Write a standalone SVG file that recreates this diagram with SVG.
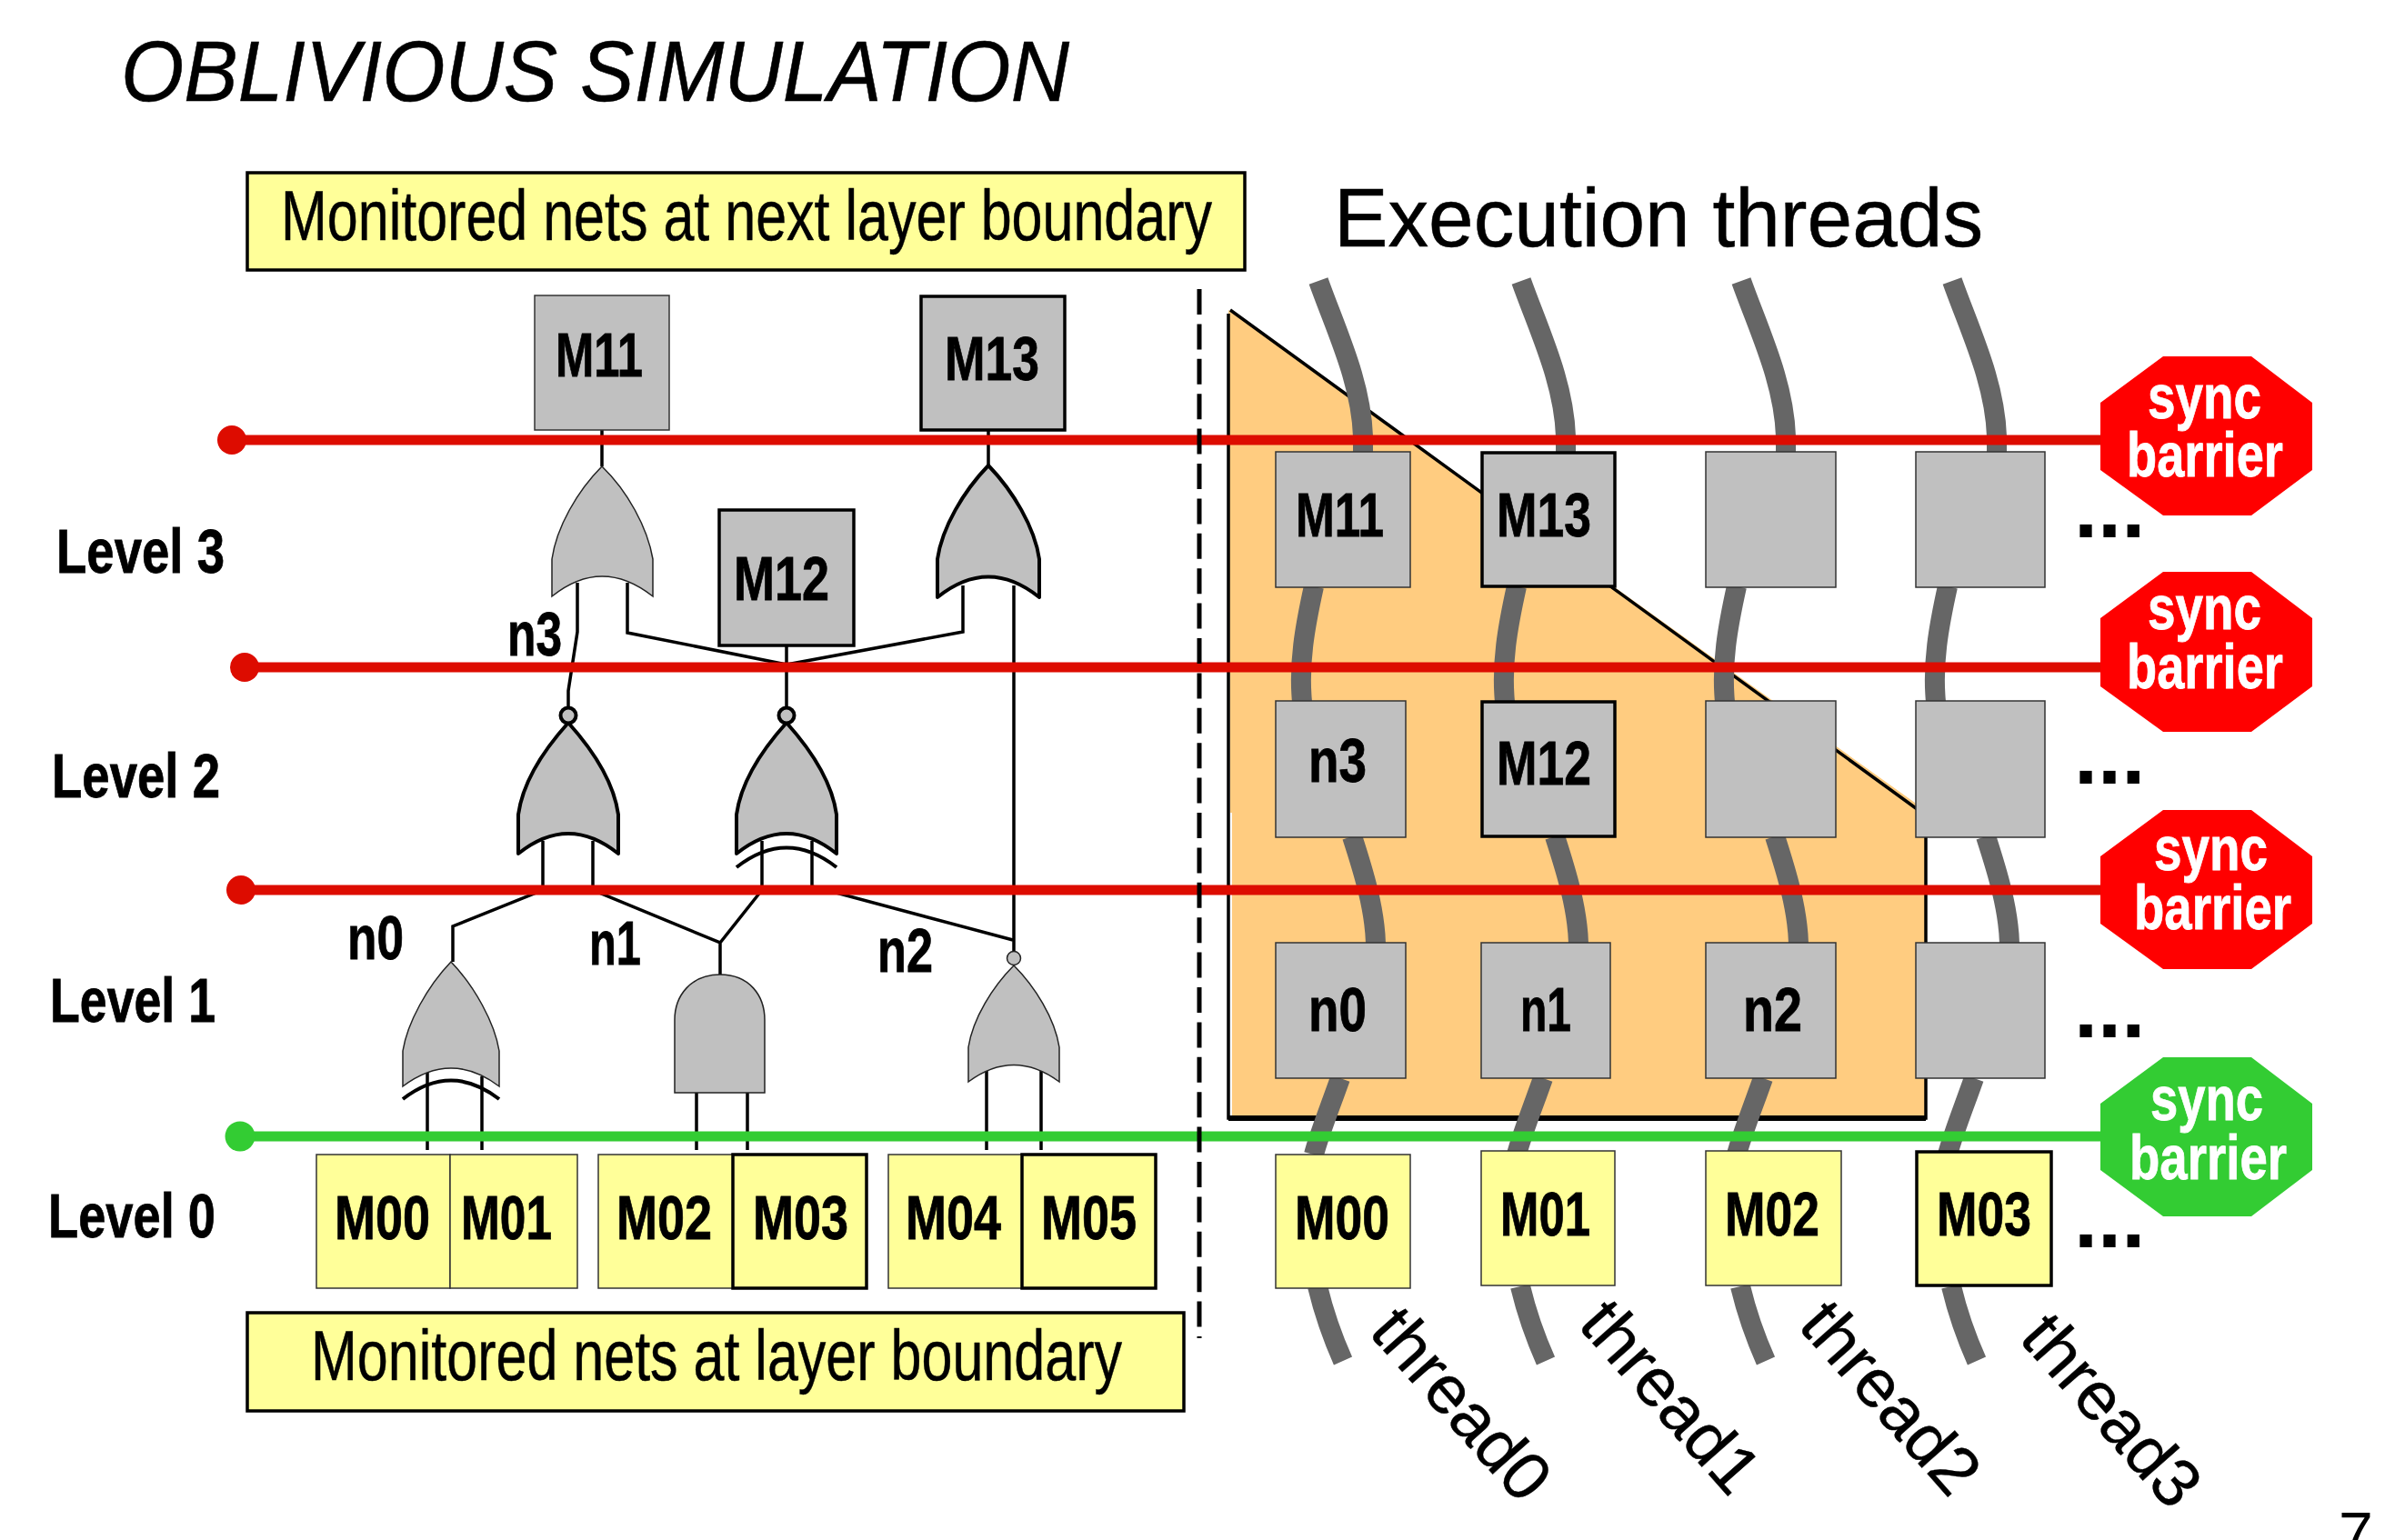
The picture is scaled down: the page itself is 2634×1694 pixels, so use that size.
<svg xmlns="http://www.w3.org/2000/svg" xmlns:xlink="http://www.w3.org/1999/xlink" width="2634" height="1694" viewBox="0 0 2634 1694">
<style>
text{font-family:"Liberation Sans",Arial,sans-serif;fill:#000}
.b{font-weight:bold;font-size:68px;stroke:#000;stroke-width:.8}
.w{font-weight:bold;font-size:68px;fill:#fff;stroke:#fff;stroke-width:.8}
.r{font-size:78px;stroke:#000;stroke-width:.5}
.gray{fill:#c0c0c0;stroke:#333;stroke-width:1.5}
.grayT{fill:#c0c0c0;stroke:#000;stroke-width:3.5}
.yel{fill:#ffff99;stroke:#333;stroke-width:1.5}
.yelT{fill:#ffff99;stroke:#000;stroke-width:3.5}
.gT{fill:#c0c0c0;stroke:#000;stroke-width:4;stroke-linejoin:round}
.gt{fill:#c0c0c0;stroke:#222;stroke-width:1.5}
.arc{fill:none;stroke:#000;stroke-width:4}
.wire{fill:none;stroke:#000;stroke-width:3.5}
.red{stroke:#dd0c00;stroke-width:11}
.grn{stroke:#33cc33;stroke-width:11}
.thr{fill:none;stroke:#666;stroke-width:22}
</style>
<defs>
<path id="th" class="thr" d="M1450,309C1470,365 1497,420 1499,480V500M1445,645C1435,690 1428,730 1432,772M1487,920C1500,960 1512,1000 1513,1038M1474,1186C1462,1220 1450,1250 1445,1270M1449,1415C1455,1440 1465,1470 1477,1497"/>
</defs>
<rect width="2634" height="1694" fill="#fff"/>
<text id="title" x="133" y="111" font-size="95" font-style="italic" stroke="#000" stroke-width=".5" textLength="1043" lengthAdjust="spacingAndGlyphs">OBLIVIOUS SIMULATION</text>
<g id="top-label"><rect x="272" y="190" width="1097" height="107" class="yelT"/><text class="r" x="309" y="264" textLength="1024" lengthAdjust="spacingAndGlyphs">Monitored nets at next layer boundary</text></g>
<g id="bottom-label"><rect x="272" y="1444" width="1030" height="108" class="yelT"/><text class="r" x="342" y="1518" textLength="892" lengthAdjust="spacingAndGlyphs">Monitored nets at layer boundary</text></g>
<text id="exec-title" x="1467" y="271" font-size="90" stroke="#000" stroke-width=".5" textLength="714" lengthAdjust="spacingAndGlyphs">Execution threads</text>
<g id="levels">
<text class="b" x="62" y="630" textLength="185" lengthAdjust="spacingAndGlyphs">Level 3</text>
<text class="b" x="57" y="877" textLength="185" lengthAdjust="spacingAndGlyphs">Level 2</text>
<text class="b" x="55" y="1124" textLength="182" lengthAdjust="spacingAndGlyphs">Level 1</text>
<text class="b" x="53" y="1361" textLength="184" lengthAdjust="spacingAndGlyphs">Level 0</text>
</g>
<g id="region">
<path d="M1351,341L1353,894H1355V1230H2118V894L2106,883Z" fill="#ffcc80"/>
<path d="M1353,341L2118,897M1351,345V1230H2118V883" fill="none" stroke="#000" stroke-width="3.5"/>
<path d="M1351,1230H2118" stroke="#000" stroke-width="6"/>
</g>
<g id="connectors">
<g id="threads">
<use xlink:href="#th" href="#th"/>
<use xlink:href="#th" href="#th" transform="translate(223,0)"/>
<use xlink:href="#th" href="#th" transform="translate(465,0)"/>
<use xlink:href="#th" href="#th" transform="translate(697,0)"/>
</g>
<g id="wires">
<path class="wire" d="M662,473V513M1087,473V512"/>
<path class="wire" d="M635,641V695L625,760V778"/>
<path class="wire" d="M690,641V696L865,731M1059,644V695L865,731M865,710V778"/>
<path class="wire" d="M1115,644V1047"/>
<path class="wire" d="M597,925V979L498,1019V1058M652,925V979L792,1037V1072M838,925V979L792,1037M893,925V975L1114,1034"/>
<path class="wire" d="M470,1179V1265M530,1184V1265M766,1202V1265M822,1202V1265M1085,1177V1265M1145,1177V1265"/>
</g>
</g>
<g id="gates">
<path id="g-m11" class="gt" d="M662,513C635,540 612,580 607,615V656Q662,612 718,656V615C712,580 690,540 662,513Z"/>
<path id="g-m13" class="gT" d="M1087,512C1060,540 1036,580 1031,615V657Q1087,612 1143,657V615C1138,580 1114,540 1087,512Z"/>
<g id="g-n3"><path class="gT" d="M625,795C598,825 575,860 570,896V939Q625,895 680,939V896C675,860 652,825 625,795Z"/><circle cx="625" cy="787" r="8.5" class="gT"/></g>
<g id="g-m12"><path class="gT" d="M865,795C838,825 815,860 810,896V939Q865,895 920,939V896C915,860 892,825 865,795Z"/><path class="arc" d="M810,954Q865,911 920,954"/><circle cx="865" cy="787" r="8.5" class="gT"/></g>
<g id="g-n0"><path class="gt" d="M496,1058C470,1085 448,1125 443,1156V1195Q496,1155 549,1195V1156C544,1125 522,1085 496,1058Z"/><path class="arc" d="M443,1209Q496,1168 549,1209"/></g>
<path id="g-n1" class="gt" d="M792,1072C760,1072 742,1095 742,1122V1202H841V1122C841,1095 824,1072 792,1072Z"/>
<g id="g-n2"><path class="gt" d="M1115,1062C1092,1085 1070,1120 1065,1152V1190Q1115,1153 1165,1190V1152C1160,1120 1138,1085 1115,1062Z"/><circle cx="1115" cy="1054" r="7.5" class="gt"/></g>
</g>
<g id="left-regs">
<g id="l-m11"><rect x="588" y="325" width="148" height="148" class="gray"/><text class="b" x="611" y="414" textLength="96" lengthAdjust="spacingAndGlyphs">M11</text></g>
<g id="l-m13"><rect x="1013" y="326" width="158" height="147" class="grayT"/><text class="b" x="1039" y="418" textLength="104" lengthAdjust="spacingAndGlyphs">M13</text></g>
<g id="l-m12"><rect x="791" y="561" width="148" height="149" class="grayT"/><text class="b" x="807" y="660" textLength="105" lengthAdjust="spacingAndGlyphs">M12</text></g>
<g id="l-m00"><rect x="348" y="1270" width="147" height="147" class="yel"/><text class="b" x="368" y="1363" textLength="105" lengthAdjust="spacingAndGlyphs">M00</text></g>
<g id="l-m01"><rect x="495" y="1270" width="140" height="147" class="yel"/><text class="b" x="507" y="1363" textLength="100" lengthAdjust="spacingAndGlyphs">M01</text></g>
<g id="l-m02"><rect x="658" y="1270" width="148" height="147" class="yel"/><text class="b" x="678" y="1363" textLength="105" lengthAdjust="spacingAndGlyphs">M02</text></g>
<g id="l-m03"><rect x="806" y="1270" width="147" height="147" class="yelT"/><text class="b" x="828" y="1363" textLength="105" lengthAdjust="spacingAndGlyphs">M03</text></g>
<g id="l-m04"><rect x="977" y="1270" width="147" height="147" class="yel"/><text class="b" x="996" y="1363" textLength="105" lengthAdjust="spacingAndGlyphs">M04</text></g>
<g id="l-m05"><rect x="1124" y="1270" width="147" height="147" class="yelT"/><text class="b" x="1145" y="1363" textLength="105" lengthAdjust="spacingAndGlyphs">M05</text></g>
</g>
<g id="net-labels">
<text class="b" x="558" y="721" textLength="60" lengthAdjust="spacingAndGlyphs">n3</text>
<text class="b" x="382" y="1055" textLength="62" lengthAdjust="spacingAndGlyphs">n0</text>
<text class="b" x="648" y="1061" textLength="57" lengthAdjust="spacingAndGlyphs">n1</text>
<text class="b" x="965" y="1069" textLength="61" lengthAdjust="spacingAndGlyphs">n2</text>
</g>
<g id="right-regs">
<g id="r-m11"><rect x="1403" y="497" width="148" height="149" class="gray"/><text class="b" x="1425" y="590" textLength="97" lengthAdjust="spacingAndGlyphs">M11</text></g>
<g id="r-m13"><rect x="1630" y="498" width="146" height="147" class="grayT"/><text class="b" x="1646" y="590" textLength="104" lengthAdjust="spacingAndGlyphs">M13</text></g>
<rect id="r-c3" x="1876" y="497" width="143" height="149" class="gray"/>
<rect id="r-c4" x="2107" y="497" width="142" height="149" class="gray"/>
<g id="r-n3"><rect x="1403" y="771" width="143" height="150" class="gray"/><text class="b" x="1439" y="860" textLength="64" lengthAdjust="spacingAndGlyphs">n3</text></g>
<g id="r-m12"><rect x="1630" y="772" width="146" height="148" class="grayT"/><text class="b" x="1646" y="863" textLength="104" lengthAdjust="spacingAndGlyphs">M12</text></g>
<rect id="r2-c3" x="1876" y="771" width="143" height="150" class="gray"/>
<rect id="r2-c4" x="2107" y="771" width="142" height="150" class="gray"/>
<g id="r-n0"><rect x="1403" y="1037" width="143" height="149" class="gray"/><text class="b" x="1439" y="1134" textLength="64" lengthAdjust="spacingAndGlyphs">n0</text></g>
<g id="r-n1"><rect x="1629" y="1037" width="142" height="149" class="gray"/><text class="b" x="1672" y="1134" textLength="56" lengthAdjust="spacingAndGlyphs">n1</text></g>
<g id="r-n2"><rect x="1876" y="1037" width="143" height="149" class="gray"/><text class="b" x="1917" y="1134" textLength="65" lengthAdjust="spacingAndGlyphs">n2</text></g>
<rect id="r1-c4" x="2107" y="1037" width="142" height="149" class="gray"/>
<g id="r-m00"><rect x="1403" y="1270" width="148" height="147" class="yel"/><text class="b" x="1424" y="1363" textLength="104" lengthAdjust="spacingAndGlyphs">M00</text></g>
<g id="r-m01"><rect x="1629" y="1266" width="147" height="148" class="yel"/><text class="b" x="1650" y="1359" textLength="99" lengthAdjust="spacingAndGlyphs">M01</text></g>
<g id="r-m02"><rect x="1876" y="1266" width="149" height="148" class="yel"/><text class="b" x="1897" y="1359" textLength="104" lengthAdjust="spacingAndGlyphs">M02</text></g>
<g id="r-m03"><rect x="2108" y="1267" width="148" height="147" class="yelT"/><text class="b" x="2130" y="1359" textLength="104" lengthAdjust="spacingAndGlyphs">M03</text></g>
</g>
<g id="barriers">
<path class="red" d="M255,484H2312M269,734H2312M265,979H2312"/>
<path class="grn" d="M264,1250H2312"/>
<circle cx="255" cy="484" r="16" fill="#dd0c00"/><circle cx="269" cy="734" r="16" fill="#dd0c00"/><circle cx="265" cy="979" r="16" fill="#dd0c00"/><circle cx="264" cy="1250" r="16.5" fill="#33cc33"/>
</g>
<path id="divider" d="M1319,318V1472" fill="none" stroke="#000" stroke-width="5" stroke-dasharray="28 10.4"/>
<g id="sync0"><path d="M2379,392H2476L2543,443V517L2476,567H2379L2310,517V443Z" fill="#ff0000"/><text class="w" x="2362" y="460" textLength="125" lengthAdjust="spacingAndGlyphs">sync</text><text class="w" x="2339" y="524" textLength="172" lengthAdjust="spacingAndGlyphs">barrier</text></g>
<g id="sync1"><path d="M2379,629H2476L2543,680V755L2476,805H2379L2310,755V680Z" fill="#ff0000"/><text class="w" x="2362" y="692" textLength="125" lengthAdjust="spacingAndGlyphs">sync</text><text class="w" x="2339" y="757" textLength="172" lengthAdjust="spacingAndGlyphs">barrier</text></g>
<g id="sync2"><path d="M2379,891H2476L2543,942V1016L2476,1066H2379L2310,1016V942Z" fill="#ff0000"/><text class="w" x="2369" y="957" textLength="125" lengthAdjust="spacingAndGlyphs">sync</text><text class="w" x="2347" y="1022" textLength="173" lengthAdjust="spacingAndGlyphs">barrier</text></g>
<g id="sync3"><path d="M2379,1163H2476L2543,1214V1287L2476,1338H2379L2310,1287V1214Z" fill="#33cc33"/><text class="w" x="2365" y="1232" textLength="124" lengthAdjust="spacingAndGlyphs">sync</text><text class="w" x="2342" y="1297" textLength="173" lengthAdjust="spacingAndGlyphs">barrier</text></g>
<g id="ellipses" font-weight="bold" font-size="94">
<text x="2281" y="591">...</text><text x="2281" y="862">...</text><text x="2281" y="1141">...</text><text x="2281" y="1372">...</text>
</g>
<g id="thread-labels" font-size="75" stroke="#000" stroke-width=".4">
<text transform="translate(1504,1466) rotate(48.5)">thread0</text>
<text transform="translate(1734,1458) rotate(48.5)">thread1</text>
<text transform="translate(1976,1459) rotate(48.5)">thread2</text>
<text transform="translate(2219,1473) rotate(48.5)">thread3</text>
</g>
<text id="page" x="2572" y="1711" font-size="68">7</text>
</svg>
